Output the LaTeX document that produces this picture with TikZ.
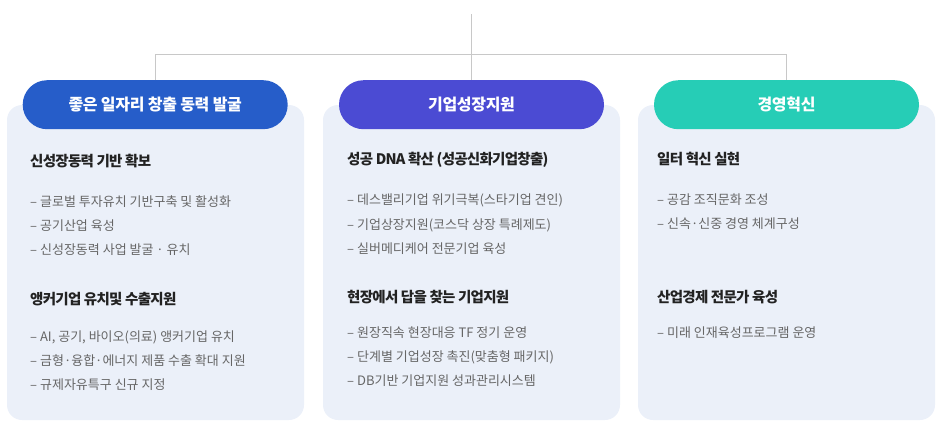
\documentclass[tikz,border=0pt]{standalone}
\usepackage{fontspec}
\setmainfont{Noto Sans CJK KR}
\newfontfamily\pillfont{Noto Sans CJK KR}[LetterSpace=-2]
\newfontfamily\headfont{Noto Sans CJK KR}[LetterSpace=-5]
\newfontfamily\itemfont{Noto Sans CJK KR}[LetterSpace=0]
\definecolor{jobblue}{HTML}{265DC9}
\definecolor{growviolet}{HTML}{4B4BD3}
\definecolor{innoteal}{HTML}{26CDB6}
\definecolor{panelbg}{HTML}{EBF0F9}
\definecolor{headgray}{HTML}{222222}
\definecolor{itemgray}{HTML}{666666}
\definecolor{linegray}{HTML}{C8C8C8}
\begin{document}
\begin{tikzpicture}[x=1pt,y=-1pt,
    panel/.style={rectangle,rounded corners=15pt,fill=panelbg,minimum width=297pt,minimum height=315pt,inner sep=0pt},
    pill/.style={rectangle,rounded corners=24.5pt,minimum width=265pt,minimum height=49pt,inner sep=0pt,text=white,font=\pillfont\fontsize{16}{16}\selectfont\bfseries},
    head/.style={anchor=west,inner sep=0pt,text=headgray,text height=12.3pt,text depth=1.5pt,font=\headfont\fontsize{14.5}{14.5}\selectfont\bfseries},
    item/.style={anchor=west,inner sep=0pt,text=itemgray,text height=11pt,text depth=1.3pt,font=\itemfont\fontsize{13}{13}\selectfont},
    link/.style={draw=linegray,line width=1pt}]
                \useasboundingbox (0,0) rectangle (942,429);
                % panels
                \node[panel] at (155.5, 262.5) (pa) {};
                \node[panel] at (471.5, 262.5) (pb) {};
                \node[panel] at (786.5, 262.5) (pc) {};
                % title pills
                \node[pill,fill=jobblue] at (155.2, 104.7) (ta) {좋은 일자리 창출 동력 발굴};
                \node[pill,fill=growviolet] at (471.5, 104.7) (tb) {기업성장지원};
                \node[pill,fill=innoteal] at (786.5, 104.7) (tc) {경영혁신};
                \coordinate (top) at (471.5, 14);
                \coordinate (hub) at (471.5, 54.3);
                \draw[link] (top) -- (tb);
                \draw[link] (ta.north) |- (hub) -| (tc.north);

                % column 1
                \node[head] at (30, 161) (a1) {신성장동력 기반 확보};
                \node[item] at (30, 202) (a11) {– 글로벌 투자유치 기반구축 및 활성화};
                \node[item] at (30, 226) (a12) {– 공기산업 육성};
                \node[item] at (30, 250) (a13) {– 신성장동력 사업 발굴 · 유치};
                \node[head] at (30, 299) (a2) {앵커기업 유치및 수출지원};
                \node[item] at (30, 337) (a21) {– AI, 공기, 바이오(의료) 앵커기업 유치};
                \node[item] at (30, 361) (a22) {– 금형·융합·에너지 제품 수출 확대 지원};
                \node[item] at (30, 385) (a23) {– 규제자유특구 신규 지정};

                % column 2
                \node[head] at (347, 159) (b1) {성공 DNA 확산 (성공신화기업창출)};
                \node[item] at (347, 200) (b11) {– 데스밸리기업 위기극복(스타기업 견인)};
                \node[item] at (347, 225) (b12) {– 기업상장지원(코스닥 상장 특례제도)};
                \node[item] at (347, 249) (b13) {– 실버메디케어 전문기업 육성};
                \node[head] at (347, 297) (b2) {현장에서 답을 찾는 기업지원};
                \node[item] at (347, 333) (b21) {– 원장직속 현장대응 TF 정기 운영};
                \node[item] at (347, 357) (b22) {– 단계별 기업성장 촉진(맞춤형 패키지)};
                \node[item] at (347, 381) (b23) {– DB기반 기업지원 성과관리시스템};

                % column 3
                \node[head] at (657, 159) (c1) {일터 혁신 실현};
                \node[item] at (657, 200) (c11) {– 공감 조직문화 조성};
                \node[item] at (657, 224) (c12) {– 신속·신중 경영 체계구성};
                \node[head] at (657, 297) (c2) {산업경제 전문가 육성};
                \node[item] at (657, 333) (c21) {– 미래 인재육성프로그램 운영};
            \end{tikzpicture}
\end{document}
